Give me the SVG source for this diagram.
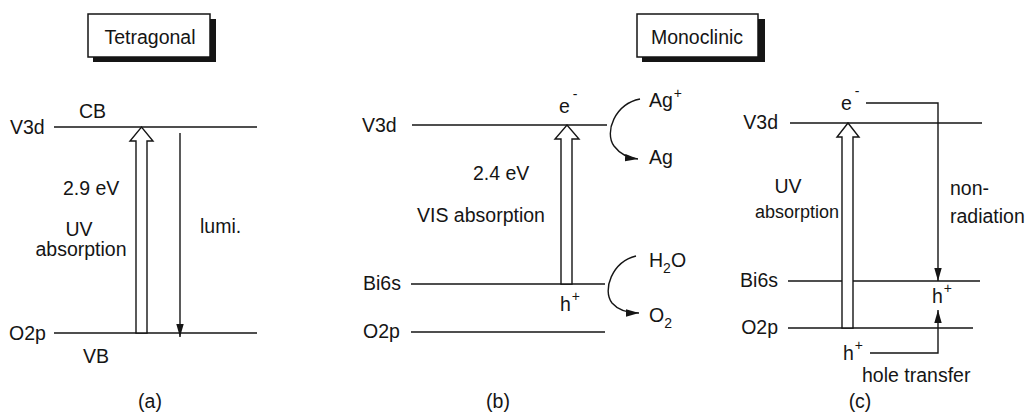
<svg xmlns="http://www.w3.org/2000/svg" width="1028" height="417" viewBox="0 0 1028 417">
<defs>
<style>
text{font-family:"Liberation Sans",Arial,sans-serif;font-size:19.5px;fill:#151515}
.lvl{stroke:#151515;stroke-width:1.5;fill:none}
.ln{stroke:#151515;stroke-width:1.4;fill:none}
.hollow{fill:#fff;stroke:#151515;stroke-width:1.4;stroke-linejoin:miter}
.sup{font-size:14px}
.sub{font-size:14px}
</style>
<marker id="ah" viewBox="0 0 14 8" refX="14" refY="4" markerWidth="13" markerHeight="8" markerUnits="userSpaceOnUse" orient="auto">
<path d="M0,0 L14,4 L0,8 Z" fill="#151515"/>
</marker>
</defs>

<g id="title-tetragonal">
<rect x="93" y="19" width="123" height="43" fill="#151515"/>
<rect x="88" y="14" width="122" height="43" fill="#fff" stroke="#151515" stroke-width="1.5"/>
<text x="150" y="44" text-anchor="middle">Tetragonal</text>
</g>
<g id="title-monoclinic">
<rect x="642" y="19" width="123" height="43" fill="#151515"/>
<rect x="637" y="14" width="121" height="43" fill="#fff" stroke="#151515" stroke-width="1.5"/>
<text x="697" y="44" text-anchor="middle">Monoclinic</text>
</g>

<g id="panel-a">
<line class="lvl" x1="54" y1="127" x2="257" y2="127"/>
<line class="lvl" x1="54" y1="333" x2="257" y2="333"/>
<text x="10" y="134">V3d</text>
<text x="9" y="340">O2p</text>
<text x="79" y="118">CB</text>
<text x="83" y="363">VB</text>
<text x="63" y="195">2.9 eV</text>
<text x="79" y="236" text-anchor="middle">UV</text>
<text x="81" y="256" text-anchor="middle">absorption</text>
<text x="200" y="233">lumi.</text>
<text x="150" y="408" text-anchor="middle">(a)</text>
</g>

<g id="panel-b">
<line class="lvl" x1="412" y1="125" x2="607" y2="125"/>
<line class="lvl" x1="411" y1="284" x2="605" y2="284"/>
<line class="lvl" x1="411" y1="332" x2="605" y2="332"/>
<text x="362" y="132">V3d</text>
<text x="363" y="290">Bi6s</text>
<text x="363" y="338">O2p</text>
<text x="559" y="113">e<tspan class="sup" dx="3" dy="-14">-</tspan></text>
<text x="560" y="311">h<tspan class="sup" dx="1" dy="-10">+</tspan></text>
<text x="473" y="180">2.4 eV</text>
<text x="417" y="222">VIS absorption</text>
<text x="649" y="107">Ag<tspan class="sup" dx="1" dy="-9">+</tspan></text>
<text x="649" y="164">Ag</text>
<text x="649" y="267">H<tspan class="sub" dy="6">2</tspan><tspan dy="-6">O</tspan></text>
<text x="649" y="322">O<tspan class="sub" dy="6">2</tspan></text>
<text x="498" y="408" text-anchor="middle">(b)</text>
</g>

<g id="panel-c">
<line class="lvl" x1="790" y1="123" x2="982" y2="123"/>
<line class="lvl" x1="788" y1="281" x2="980" y2="281"/>
<line class="lvl" x1="788" y1="328" x2="973" y2="328"/>
<text x="778" y="129" text-anchor="end">V3d</text>
<text x="778" y="287" text-anchor="end">Bi6s</text>
<text x="778" y="334" text-anchor="end">O2p</text>
<text x="841" y="110">e<tspan class="sup" dx="3" dy="-14">-</tspan></text>
<text x="788" y="193" text-anchor="middle">UV</text>
<text x="797" y="218" text-anchor="middle" style="font-size:18px">absorption</text>
<text x="950" y="195">non-</text>
<text x="950" y="223">radiation</text>
<text x="932" y="303">h<tspan class="sup" dx="1" dy="-10">+</tspan></text>
<text x="843" y="360">h<tspan class="sup" dx="1" dy="-10">+</tspan></text>
<text x="862" y="382">hole transfer</text>
<text x="860" y="408" text-anchor="middle">(c)</text>
</g>

<g id="connectors">
<path class="hollow" d="M136,333 V141 H130 L141.5,127 L153,141 H147 V333 Z"/>
<line class="ln" x1="180" y1="133" x2="180" y2="337" marker-end="url(#ah)"/>
<path class="hollow" d="M561,284 V139 H555 L567,125 L579,139 H572 V284 Z"/>
<path class="ln" d="M640,99 C615,104 604,132 614,146 C620,154 628,158 638,159" marker-end="url(#ah)"/>
<path class="ln" d="M636,256 C612,262 602,290 612,303 C618,310 628,313 639,313" marker-end="url(#ah)"/>
<path class="hollow" d="M842,328 V137 H837 L848,123 L859,137 H853 V328 Z"/>
<path class="ln" d="M866,103 H938 V281" marker-end="url(#ah)"/>
<path class="ln" d="M870,353 H938 V310" marker-end="url(#ah)"/>
</g>
</svg>
